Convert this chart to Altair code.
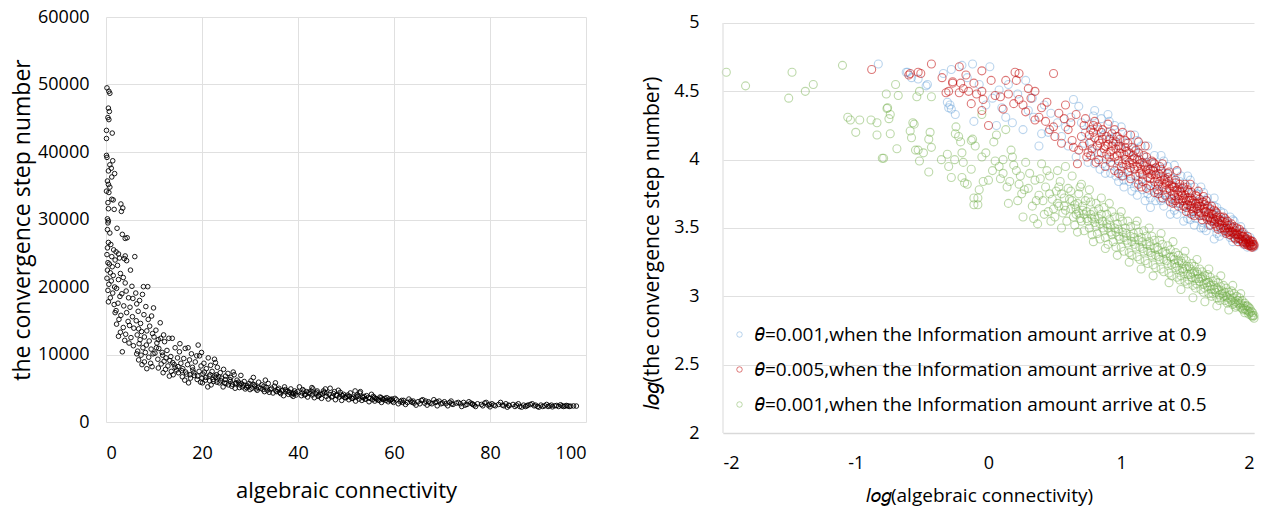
import altair as alt
import pandas as pd

FONT = "Open Sans"

# ---------------- left panel: (algebraic connectivity, convergence step number)
left_pts = [
    (0.2,49500),(0.6,49000),(0.8,48700),(0.5,46500),(0.7,46000),(0.4,45100),(0.6,44800),(0.1,43200),(1.3,42800),(0.1,42000),
    (0.1,39500),(0.2,39200),(1.4,38700),(0.8,38100),(1.1,37600),(0.5,37200),(1.8,36800),(1.2,36300),(0.3,35700),(0.5,35200),
    (0.8,34800),(0.1,34200),(0.6,34000),(1.2,33000),(1.5,32900),(0.4,32500),(0.5,31600),(1.7,31500),(0.3,30100),(0.5,29800),
    (0.4,29500),(0.3,28500),(2.3,28700),(0.8,28000),(0.5,26600),(1.0,26300),(0.3,25800),(1.6,25500),(0.2,24800),(1.2,24500),
    (1.9,24000),(0.4,23600),(0.7,23400),(1.3,23000),(0.3,22500),(0.9,22100),(1.5,21700),(0.2,21300),(1.1,20900),(0.6,20400),
    (1.8,20000),(0.4,19500),(1.4,19100),(0.9,18400),(0.5,17800),(1.7,17400),
    (3.1,32300),(3.5,31700),(3.2,31200),(3.4,27800),(4.0,27200),(4.4,27300),(2.1,25200),(2.8,24300),(2.6,24900),(4.0,24600),
    (6.0,24500),(3.8,24200),(4.3,23900),(2.4,23200),(5.1,22500),(3.0,22000),(2.6,21100),(3.6,21400),(4.0,20600),(5.4,20100),
    (2.2,19800),(4.2,19400),(3.3,19000),(2.9,18600),(4.7,18400),(5.6,18300),(2.5,17600),(3.7,17200),(5.0,17000),(2.1,16500),
    (1.9,16200),(4.3,16200),(3.1,15800),(5.5,15600),(2.7,15200),(4.6,14900),(2.2,14500),(3.6,14000),(4.9,14300),(5.8,13900),
    (3.0,13300),(4.1,13000),(2.6,12700),(5.2,12500),(3.9,12100),(3.4,10400),(4.8,11700),(5.7,11300),
    (7.8,20050),(8.7,20050),(6.2,19100),(7.6,18900),(7.0,18000),(6.4,17500),(8.3,17100),(9.9,16900),(6.7,16400),(7.9,15900),
    (9.5,15700),(8.8,15200),(6.3,15000),(7.2,14600),(9.1,14200),(6.8,13800),(7.4,13400),(8.5,13500),(9.7,13100),(6.5,12900),
    (8.0,12600),(10.0,12600),(7.1,12200),(9.0,12000),(6.9,11600),(8.4,11400),(7.7,11000),(9.4,10800),(6.6,10500),(8.2,10300),
    (9.8,10100),(7.3,9900),(8.9,9600),(6.8,9200),(8.0,8900),(9.3,8700),(7.5,8500),(8.5,7900),(9.6,8200),(6.4,10100),
    (10.4,13600),(11.3,14700),(11.4,12400),(13.1,12400),(13.8,12400),(10.6,11700),(12.2,11900),(14.4,11000),(16.5,10900),(19.2,11400),
    (11.0,10900),(12.7,10600),(15.3,10400),(17.8,10100),(18.9,9800),(19.5,9800),(10.2,10200),(11.8,9900),(13.5,9700),(14.9,9500),
    (16.2,9400),(17.4,9200),(18.6,8900),(10.8,9300),(12.1,9000),(13.9,8800),(15.6,8700),(17.0,8500),(19.8,8300),(11.5,8600),
    (12.9,8300),(14.4,8100),(16.0,7900),(18.1,7700),(19.4,7500),(10.9,8000),(12.4,7800),(13.6,7500),(15.1,7300),(16.8,7100),
    (18.4,6900),(11.9,7300),(14.0,7000),(15.9,6700),(17.6,6500),(19.0,6300),(13.2,6800),(16.4,6200),(17.2,5800),(19.7,5900),
    (14.7,7700),(18.0,8100),
    (21.3,9500),(22.6,9300),(20.4,8700),(21.8,8400),(23.2,8100),(24.5,7800),(20.9,7900),(22.1,7500),(23.8,7300),(25.4,7200),
    (26.7,7000),(28.1,6900),(20.2,7100),(21.5,6800),(22.9,6600),(24.1,6500),(25.8,6300),(27.3,6200),(28.8,6000),(30.2,6100),
    (20.7,6200),(22.4,6000),(23.6,5800),(25.0,5700),(26.3,5600),(27.9,5500),(29.4,5400),(31.0,5300),(21.9,5500),(24.4,5200),
    (26.9,5000),(29.0,4900),(30.7,6600),(31.8,5900),(32.5,5500),(33.4,5100),(34.2,4800),(35.1,5300),(36.0,5000),(36.8,4700),
    (37.7,4500),(38.5,4900),(39.3,4600),(31.5,4700),(33.0,4500),(34.8,4300),(36.4,4200),(38.0,4100),(39.6,4000),(32.2,5000),
    (35.6,4500),(37.2,5200),(38.9,4300),(27.6,5900),(24.9,6800),(23.0,7000),(26.0,6600),(28.4,5200),(29.8,5700),(30.4,5000),
    (33.8,5700),(35.3,5800),(37.0,3900),(39.0,3800),(20.1,5800),(21.2,5200),
    (40.3,5200),(41.0,4800),(41.8,4500),(42.5,4200),(43.1,4900),(43.9,4400),(44.6,4100),(45.3,4600),(46.0,4300),(46.7,5000),
    (47.4,4200),(48.1,3900),(48.8,4400),(49.5,4100),(50.2,3800),(50.9,4300),(51.6,3700),(52.3,4000),(52.9,4300),(53.6,3600),
    (54.3,3900),(55.0,3500),(55.7,3800),(56.4,3400),(57.1,3700),(57.8,3300),(58.5,3600),(59.2,3200),(40.7,3900),(42.0,3700),
    (43.4,3600),(44.9,3500),(46.3,3400),(47.8,3300),(49.1,3200),(50.6,3300),(52.0,3100),(53.3,3200),(54.8,3000),(56.0,3100),
    (57.4,2900),(58.8,3000),(41.4,4000),(44.2,3800),(47.0,3700),(49.8,3600),(51.2,3500),(54.0,3400),(56.7,3300),(59.6,3400),
    (45.7,4900),(48.4,4700),(51.9,4600),(53.0,4500),(55.3,4100),(42.9,5100),(58.1,3500),(59.9,2900),
    (60.5,3300),(61.3,3000),(62.0,3200),(62.8,2900),(63.5,3100),(64.2,2800),(65.0,3000),(65.7,3200),(66.4,2800),(67.2,3000),
    (67.9,2700),(68.6,2900),(69.4,3100),(70.1,2800),(70.8,2700),(71.6,2900),(72.3,2600),(73.0,2800),(73.8,2700),(74.5,2900),
    (75.2,2600),(76.0,2800),(76.7,2500),(77.4,2700),(78.2,2600),(78.9,2800),(79.6,2500),(80.4,2700),(81.1,2400),(81.8,2600),
    (82.6,2500),(83.3,2700),(84.0,2400),(84.8,2600),(85.5,2500),(86.2,2300),(87.0,2500),(87.7,2400),(88.4,2600),(89.2,2400),
    (89.9,2300),(90.6,2500),(91.4,2400),(92.1,2300),(92.8,2500),(93.5,2400),(94.3,2300),(95.0,2400),(95.6,2350),(96.2,2400),
    (96.8,2350),(98.0,2360),(60.9,2700),(62.4,2600),(64.6,2500),(66.9,2500),(69.0,2400),(71.2,2400),(74.1,2300),(77.0,2300),
    (80.0,2250),(83.6,2200),(86.6,2200),(60.2,3500),(63.1,3400),(66.0,3300),(68.3,3300),(71.9,3100),(75.6,3000),(79.2,2900),
    (82.2,2900),(85.9,2700),(88.8,2700),(91.8,2600),(94.7,2550),(93.0,2250),(90.2,2200),(97.4,2380),
    (10.5,11000),(11.7,10300),(12.5,9500),(13.3,9100),(14.2,8500),(15.0,8200),(15.8,7600),(16.6,7400),(17.5,7000),(18.3,7300),
    (19.1,6800),(20.0,6500),(20.8,6600),(21.6,6100),(22.3,6300),(23.1,5900),(23.9,6100),(24.7,5800),(25.5,5500),(26.2,5300),
    (27.0,5700),(27.8,5100),(28.6,5500),(29.3,5100),(30.0,4800),(30.9,5500),(31.7,5100),(32.7,4800),(33.6,4700),(34.5,5000),
    (35.4,4600),(36.2,4400),(37.4,4800),(38.2,4400),(39.1,4200),(39.9,4500),(40.9,4300),(41.6,4100),(42.3,4400),(43.0,4000),
    (43.7,4200),(44.4,3900),(45.1,4200),(45.9,3800),(46.5,4100),(47.2,3800),(48.0,4000),(48.6,3700),(49.3,3900),(50.0,3600),
    (50.7,3800),(51.4,3500),(52.1,3700),(52.7,3400),(53.4,3700),(54.1,3400),(54.7,3600),(55.5,3300),(56.2,3500),(56.9,3200),
    (57.6,3400),(58.3,3200),(59.0,3400),(59.7,3100),(61.8,2900),(63.8,2900),(65.4,2700),(67.5,2800),(69.8,2700),(72.0,2700),
    (74.8,2500),(76.4,2600),(78.5,2400),(80.8,2500),(82.9,2400),(85.2,2300),(87.4,2300),(89.5,2500),(91.0,2300),(93.9,2450),
    (95.3,2300),(96.5,2300),(33.2,6200),(26.5,7400),(22.8,8800),(19.9,10300),(17.1,11000),(15.4,11600),(12.0,12900),(10.9,12200),
    (20.5,7400),(21.7,7000),(22.7,6800),(23.5,6700),(24.8,6300),(25.9,6000),(27.1,5800),(28.2,5700),(29.6,5200),(30.6,5600),
    (31.3,4900),(32.9,5300),(34.0,4400),(35.8,4800),(36.6,4600),(37.9,4600),(38.7,4000),(39.5,4300),(41.2,4600),(42.7,4600),
    (44.0,4600),(45.5,4400),(47.6,4500),(49.0,4000),(50.4,4000),(52.5,3800),(53.8,3800),(55.9,3600),(57.3,3600),(59.4,3300),
    (61.6,3200),(64.0,3100),(66.6,3100),(68.9,3000),(70.5,3000),(73.4,2900),(76.3,2700),(79.9,2600),(83.9,2500),(87.9,2500),
    (92.4,2400),(95.9,2450),
]

# ---------------- right panel: log-log, three series
green_pts = [
    (-1.975,4.64),(-1.83,4.54),(-1.48,4.64),(-1.505,4.45),(-1.38,4.50),(-1.32,4.55),(-1.10,4.69),(-1.06,4.31),(-1.04,4.29),(-0.97,4.29),
    (-1.00,4.20),(-0.885,4.29),(-0.84,4.27),(-0.84,4.18),(-0.80,4.01),(-0.76,4.38),(-0.75,4.30),(-0.74,4.33),(-0.74,4.19),(-0.70,4.55),
    (-0.77,4.48),(-0.68,4.47),(-0.69,4.08),(-0.59,4.21),(-0.58,4.16),(-0.57,4.27),(-0.55,4.07),(-0.54,4.46),(-0.52,4.50),(-0.43,4.46),
    (-0.765,4.375),(-0.79,4.01),(-0.56,4.26),(-0.53,4.07),(-0.49,4.05),(-0.52,3.99),(-0.45,3.91),(-0.44,4.20),(-0.43,4.09),(-0.45,4.15),
    (-0.355,4.00),(-0.31,4.04),(-0.30,3.95),(-0.28,3.87),(-0.255,4.00),(-0.245,4.24),(-0.25,4.19),(-0.225,4.17),(-0.21,4.13),(-0.20,4.05),
    (-0.19,3.98),(-0.20,3.87),(-0.18,3.83),(-0.16,3.82),(-0.13,3.93),(-0.11,3.72),(-0.08,3.72),(-0.11,3.67),(-0.08,3.67),(-0.13,4.14),
    (-0.12,4.15),(-0.10,4.10),(-0.05,4.02),(-0.04,3.84),(-0.05,4.33),(-0.07,3.78),(0.00,3.85),(0.04,4.13),(0.05,3.99),(0.08,3.95),
    (0.11,4.00),(0.11,3.90),(0.13,4.22),(0.16,3.84),(0.17,4.07),(0.19,3.96),(0.21,3.92),(0.23,3.82),(0.24,3.88),(0.25,3.75),
    (0.28,3.98),(0.30,3.79),(0.33,3.66),(0.35,3.85),(0.37,3.53),(0.38,3.74),(0.40,3.97),(0.41,3.70),(0.43,3.80),(0.45,3.62),
    (0.46,3.88),(0.48,3.71),(0.50,3.58),(0.51,3.77),(0.53,3.66),(0.54,3.84),(0.56,3.61),(0.57,3.72),(0.59,3.55),(0.60,3.79),
    (0.62,3.64),(0.63,3.70),(0.65,3.52),(0.66,3.60),(0.68,3.75),(0.69,3.57),(0.71,3.66),(0.72,3.48),(0.74,3.62),(0.75,3.55),
    (0.77,3.69),(0.78,3.45),(0.80,3.58),(0.81,3.51),(0.83,3.64),(0.84,3.42),(0.86,3.55),(0.87,3.48),(0.89,3.60),(0.90,3.38),
    (0.92,3.52),(0.93,3.45),(0.95,3.58),(0.96,3.36),(0.98,3.49),(0.99,3.42),(1.01,3.55),(1.02,3.33),(1.04,3.46),(1.05,3.39),
    (1.07,3.51),(1.08,3.30),(1.10,3.43),(1.11,3.36),(1.13,3.47),(1.14,3.27),(1.16,3.40),(1.17,3.33),(1.19,3.44),(1.20,3.24),
    (1.22,3.37),(1.23,3.30),(1.25,3.41),(1.26,3.21),(1.28,3.34),(1.29,3.27),(1.31,3.38),(1.32,3.18),(1.34,3.31),(1.35,3.24),
    (1.37,3.34),(1.38,3.15),(1.40,3.27),(1.41,3.21),(1.43,3.30),(1.44,3.12),(1.46,3.24),(1.47,3.18),(1.49,3.26),(1.50,3.09),
    (1.52,3.20),(1.53,3.14),(1.55,3.22),(1.56,3.06),(1.58,3.16),(1.59,3.11),(1.61,3.18),(1.62,3.03),(1.64,3.12),(1.65,3.07),
    (1.67,3.14),(1.68,3.00),(1.70,3.08),(1.71,3.03),(1.73,3.10),(1.74,2.97),(1.76,3.04),(1.77,3.00),(1.79,3.06),(1.80,2.95),
    (1.82,3.01),(1.83,2.97),(1.85,3.02),(1.86,2.92),(1.88,2.97),(1.89,2.94),(1.91,2.97),(1.92,2.90),(1.94,2.93),(1.95,2.90),
    (1.97,2.91),(1.98,2.86),(1.99,2.88),(2.00,2.84),(1.96,2.87),(1.93,2.88),
    (0.58,3.95),(0.52,3.92),(0.63,3.88),(0.70,3.82),(0.76,3.78),(0.85,3.72),(0.91,3.68),(1.00,3.62),(1.12,3.55),(1.21,3.50),
    (1.30,3.46),(0.97,3.30),(1.06,3.25),(1.15,3.20),(1.24,3.15),(1.36,3.10),(1.45,3.05),(1.54,2.99),(1.63,2.96),(1.72,2.93),
    (1.81,2.90),(0.88,3.35),(0.79,3.40),(0.67,3.47),(0.55,3.50),(1.39,3.40),(1.48,3.33),(1.57,3.27),(1.66,3.20),(1.75,3.15),
    (1.84,3.08),(1.90,3.02),
    (0.44,3.92),(0.47,3.55),(0.52,3.68),(0.55,3.75),(0.58,3.63),(0.61,3.71),(0.64,3.58),(0.67,3.68),(0.70,3.55),(0.73,3.70),
    (0.76,3.50),(0.79,3.62),(0.82,3.46),(0.85,3.60),(0.88,3.43),(0.91,3.56),(0.94,3.40),(0.97,3.53),(1.00,3.36),(1.03,3.50),
    (1.06,3.32),(1.09,3.46),(1.12,3.29),(1.15,3.43),(1.18,3.26),(1.21,3.40),(1.24,3.23),(1.27,3.36),(1.30,3.20),(1.33,3.33),
    (1.36,3.17),(1.39,3.29),(1.42,3.14),(1.45,3.26),(1.48,3.11),(1.51,3.22),(1.54,3.08),(1.57,3.18),(1.60,3.05),(1.63,3.15),
    (1.66,3.02),(1.69,3.11),(1.72,2.99),(1.75,3.07),(1.78,2.97),(1.81,3.03),(1.84,2.94),(1.87,3.00),(1.90,2.92),(1.93,2.95),
    (1.96,2.89),(1.99,2.86),(1.98,2.89),(1.95,2.93),(1.92,2.93),(1.89,2.99),(1.86,2.96),(1.83,3.04),(1.80,2.99),(1.77,3.08),
    (1.74,3.01),(1.71,3.12),(1.68,3.05),(1.65,3.16),(1.62,3.09),(1.59,3.20),(1.56,3.13),(1.53,3.24),(1.50,3.16),(1.47,3.28),
    (1.44,3.19),(1.41,3.32),(1.38,3.23),(1.35,3.37),(1.32,3.27),(1.29,3.41),(1.26,3.30),(1.23,3.44),(1.20,3.33),(1.17,3.48),
    (1.14,3.36),(1.11,3.52),(1.08,3.40),(1.05,3.55),(1.02,3.43),(0.99,3.58),(0.96,3.47),(0.93,3.62),(0.90,3.50),(0.87,3.65),
    (0.84,3.53),(0.81,3.68),(0.78,3.57),(0.75,3.72),(0.72,3.60),(0.69,3.80),(0.66,3.64),(0.62,3.77),(0.57,3.66),(0.53,3.80),
    (0.49,3.64),(0.46,3.75),(0.42,3.60),(0.39,3.86),(0.36,3.70),(0.31,3.90),(0.27,3.78),(0.22,3.70),(0.18,4.02),(0.14,3.80),
    (0.09,3.86),(0.03,3.92),(-0.02,4.05),(0.06,4.18),(0.15,3.68),(0.26,3.58),(0.34,3.57),
    (1.42,3.22),(1.45,3.15),(1.48,3.20),(1.51,3.12),(1.54,3.17),(1.57,3.09),(1.60,3.13),(1.63,3.06),(1.66,3.10),(1.69,3.02),
    (1.72,3.06),(1.75,2.99),(1.78,3.03),(1.81,2.96),(1.84,2.99),(1.87,2.93),(1.90,2.95),(1.93,2.91),(1.96,2.92),(1.99,2.85),
    (2.00,2.86),(1.97,2.88),(1.94,2.90),(1.91,2.91),(1.88,2.95),(1.85,2.95),(1.82,2.98),(1.79,3.00),(1.76,3.02),(1.73,3.05),
    (1.70,3.05),(1.67,3.08),(1.64,3.10),(1.61,3.14),(1.58,3.13),(1.55,3.18),(1.52,3.16),(1.49,3.22),(1.46,3.20),(1.43,3.26),
    (1.40,3.24),(1.37,3.29),(1.34,3.26),(1.31,3.32),(1.28,3.29),(1.25,3.35),(1.22,3.32),(1.19,3.38),(1.16,3.35),(1.13,3.41),
    (1.10,3.38),(1.07,3.44),(1.04,3.41),(1.01,3.47),(0.98,3.44),(0.95,3.50),(0.92,3.47),(0.89,3.53),(0.86,3.50),(0.83,3.57),
    (0.80,3.54),(0.77,3.60),(0.74,3.57),(0.71,3.63),(0.68,3.61),(0.65,3.67),
]

blue_pts = [
    (-0.83,4.70),(-0.62,4.64),(-0.58,4.60),(-0.53,4.59),(-0.47,4.54),(-0.34,4.63),(-0.28,4.66),(-0.31,4.42),(-0.28,4.37),(-0.30,4.38),
    (-0.61,4.64),(-0.46,4.55),(-0.20,4.69),(-0.12,4.70),(0.01,4.68),(-0.29,4.40),(-0.11,4.28),(0.03,4.45),(0.08,4.51),(-0.25,4.33),
    (-0.16,4.60),(-0.07,4.55),(-0.02,4.40),
    (0.10,4.38),(0.13,4.31),(0.18,4.27),(0.26,4.22),(0.30,4.36),(0.34,4.31),(0.40,4.19),(0.45,4.20),(0.52,4.27),(0.55,4.17),
    (0.58,4.24),(0.62,4.31),(0.64,4.44),(0.68,4.39),(0.70,4.27),(0.38,4.10),(0.15,4.55),(0.22,4.48),(0.28,4.58),(0.33,4.45),
    (0.42,4.40),(0.47,4.34),(0.60,4.10),(0.66,4.02),(0.06,4.25),
    (0.73,4.20),(0.75,3.98),(0.77,4.13),(0.79,4.32),(0.82,4.05),(0.84,3.93),(0.87,4.18),(0.89,4.00),(0.92,3.90),(0.94,4.15),
    (0.97,3.95),(0.99,4.10),(1.02,3.85),(1.04,4.02),(1.06,3.92),(1.09,4.08),(1.11,3.83),(1.14,4.00),(1.16,3.86),(1.19,3.98),
    (1.22,3.65),(1.21,3.78),(1.24,3.93),(1.26,3.81),(1.29,3.72),(1.31,3.90),(1.33,3.76),(1.36,3.70),(1.38,3.86),(1.41,3.68),
    (1.43,3.80),(1.46,3.64),(1.48,3.77),(1.51,3.61),(1.53,3.72),(1.56,3.57),(1.58,3.69),(1.61,3.54),(1.63,3.65),(1.66,3.52),
    (1.68,3.62),(1.71,3.50),(1.73,3.59),(1.76,3.47),(1.78,3.55),(1.81,3.45),(1.83,3.51),(1.86,3.42),(1.88,3.48),(1.91,3.40),
    (1.93,3.45),(1.96,3.38),(1.98,3.41),(2.00,3.36),(1.85,3.55),(1.75,3.62),(1.65,3.72),(1.55,3.80),(1.45,3.88),(1.35,3.95),
    (1.25,4.03),(1.15,4.10),(1.05,4.18),(0.95,4.25),(0.85,4.30),(1.70,3.42),(1.60,3.50),(1.50,3.57),(1.40,3.63),(1.30,3.70),
    (1.20,3.75),(1.10,3.80),(1.00,3.88),
    (0.72,4.12),(0.76,4.26),(0.80,3.97),(0.83,4.22),(0.86,3.97),(0.90,4.20),(0.93,3.96),(0.96,4.17),(1.00,3.92),(1.03,4.12),
    (1.07,3.88),(1.10,4.06),(1.13,3.85),(1.17,4.02),(1.20,3.82),(1.23,3.97),(1.27,3.78),(1.30,3.92),(1.34,3.73),(1.37,3.88),
    (1.40,3.70),(1.44,3.84),(1.47,3.66),(1.50,3.80),(1.54,3.63),(1.57,3.75),(1.60,3.59),(1.64,3.70),(1.67,3.56),(1.70,3.66),
    (1.74,3.53),(1.77,3.61),(1.80,3.49),(1.84,3.56),(1.87,3.45),(1.90,3.51),(1.94,3.40),(1.97,3.43),(1.99,3.37),(1.92,3.47),
    (1.82,3.58),(1.72,3.65),(1.62,3.76),(1.52,3.85),(1.42,3.91),(1.32,3.99),(1.18,3.70),(1.08,3.77),(0.98,3.84),(0.88,3.90),
    (0.78,4.06),(1.12,4.14),(0.91,4.28),(1.26,3.70),(1.37,3.60),(1.47,3.55),
    (1.02,3.80),(1.12,3.74),(1.22,3.72),(1.32,3.66),(1.42,3.60),(1.52,3.56),(1.62,3.50),(1.72,3.46),(1.82,3.43),(1.92,3.38),
    (0.96,3.88),(1.06,3.84),(1.16,3.78),(1.28,3.77),(1.38,3.72),(1.48,3.66),(1.58,3.60),(1.68,3.55),(1.78,3.49),(1.88,3.42),
    (1.95,3.36),(1.84,3.40),(1.74,3.44),(1.64,3.48),(1.55,3.52),(0.80,4.36),(0.90,4.33),(1.00,4.24),(1.10,4.18),(1.20,4.10),
    (1.30,4.03),(1.40,3.96),(1.50,3.88),(1.60,3.80),(1.70,3.72),
]

red_pts = [
    (-0.88,4.66),(-0.60,4.62),(-0.53,4.64),(-0.51,4.63),(-0.43,4.70),(-0.32,4.49),(-0.30,4.50),(-0.27,4.57),(-0.22,4.68),(-0.22,4.49),
    (-0.27,4.56),(-0.21,4.56),(-0.19,4.52),(-0.15,4.50),(-0.11,4.56),(-0.09,4.48),(-0.05,4.50),(-0.05,4.36),(0.00,4.25),(-0.04,4.44),
    (-0.05,4.65),(-0.59,4.63),(-0.35,4.60),(-0.17,4.62),(-0.13,4.41),(0.02,4.58),(0.05,4.47),
    (0.09,4.46),(0.15,4.48),(0.19,4.41),(0.23,4.44),(0.28,4.35),(0.35,4.29),(0.38,4.31),(0.43,4.28),(0.46,4.22),(0.49,4.24),
    (0.50,4.17),(0.60,4.22),(0.63,4.14),(0.64,4.09),(0.68,4.07),(0.70,4.17),(0.13,4.58),(0.20,4.64),(0.21,4.58),(0.23,4.63),
    (0.30,4.52),(0.35,4.50),(0.49,4.63),(0.11,4.37),(0.26,4.40),(0.32,4.45),(0.40,4.38),(0.44,4.42),(0.53,4.34),(0.57,4.30),
    (0.67,3.97),(0.55,4.12),(0.58,4.40),(0.62,4.27),(0.66,4.33),
    (0.72,4.25),(0.74,4.02),(0.76,4.18),(0.78,4.08),(0.80,4.28),(0.81,3.98),(0.83,4.14),(0.85,4.05),(0.86,4.22),(0.88,3.95),
    (0.90,4.11),(0.91,4.02),(0.93,4.19),(0.95,3.92),(0.96,4.08),(0.98,3.99),(0.99,4.15),(1.01,3.88),(1.02,4.04),(1.04,3.96),
    (1.05,4.12),(1.07,3.86),(1.08,4.00),(1.10,3.93),(1.11,4.07),(1.13,3.82),(1.14,3.97),(1.16,3.89),(1.17,4.03),(1.19,3.79),
    (1.20,3.93),(1.22,3.86),(1.23,3.99),(1.25,3.76),(1.26,3.89),(1.28,3.82),(1.29,3.95),(1.31,3.72),(1.32,3.85),(1.34,3.78),
    (1.35,3.90),(1.37,3.69),(1.38,3.81),(1.40,3.74),(1.41,3.85),(1.43,3.66),(1.44,3.77),(1.46,3.70),(1.47,3.80),(1.49,3.62),
    (1.50,3.72),(1.52,3.66),(1.53,3.76),(1.55,3.59),(1.56,3.68),(1.58,3.62),(1.59,3.71),(1.61,3.56),(1.62,3.64),(1.64,3.58),
    (1.65,3.66),(1.67,3.52),(1.68,3.60),(1.70,3.55),(1.71,3.62),(1.73,3.49),(1.74,3.56),(1.76,3.52),(1.77,3.58),(1.79,3.46),
    (1.80,3.52),(1.82,3.48),(1.83,3.53),(1.85,3.43),(1.86,3.48),(1.88,3.45),(1.89,3.49),(1.91,3.41),(1.92,3.44),(1.94,3.42),
    (1.95,3.44),(1.97,3.39),(1.98,3.40),(1.99,3.38),(2.00,3.37),(1.96,3.40),(1.93,3.43),(1.90,3.46),(1.87,3.46),(1.84,3.50),
    (1.81,3.50),(1.78,3.54),(1.75,3.58),(1.72,3.58),(1.69,3.57),(1.66,3.61),(1.63,3.62),(1.60,3.66),(1.57,3.66),(1.54,3.70),
    (1.51,3.70),(1.48,3.74),(1.45,3.76),(1.42,3.78),(1.39,3.80),(1.36,3.84),(1.33,3.82),(1.30,3.88),(1.27,3.86),(1.24,3.92),
    (1.21,3.90),(1.18,3.95),(1.15,3.93),(1.12,4.00),(1.09,3.97),(1.06,4.05),(1.03,4.00),(1.00,4.08),(0.97,4.03),(0.94,4.12),
    (0.92,4.06),(0.89,4.17),(0.84,4.12),(0.79,4.20),(1.42,3.92),(1.31,3.97),(1.52,3.82),(1.62,3.73),(0.95,4.22),(1.07,4.18),
    (1.18,4.10),(1.86,3.42),(1.94,3.39),(1.97,3.37),
    (0.71,4.10),(0.73,4.30),(0.75,4.05),(0.77,4.22),(0.82,4.24),(0.87,4.08),(0.90,4.26),(0.92,3.98),(0.97,4.17),(1.00,3.95),
    (1.03,4.14),(1.05,3.91),(1.08,4.09),(1.11,3.88),(1.13,4.05),(1.16,3.84),(1.19,4.02),(1.22,3.81),(1.25,3.97),(1.27,3.78),
    (1.30,3.93),(1.33,3.74),(1.35,3.87),(1.38,3.71),(1.41,3.83),(1.44,3.68),(1.46,3.79),(1.49,3.65),(1.51,3.76),(1.54,3.62),
    (1.57,3.73),(1.59,3.59),(1.62,3.69),(1.65,3.56),(1.67,3.64),(1.70,3.53),(1.72,3.61),(1.75,3.50),(1.78,3.57),(1.80,3.47),
    (1.83,3.47),(1.85,3.51),(1.88,3.43),(1.90,3.42),(1.92,3.40),(1.95,3.38),(1.97,3.41),(1.99,3.36),(1.98,3.37),(1.96,3.39),
    (1.94,3.41),(1.91,3.44),(1.89,3.45),(1.86,3.45),(1.82,3.52),(1.79,3.50),(1.76,3.55),(1.73,3.54),(1.69,3.60),(1.66,3.58),
    (1.63,3.67),(1.60,3.61),(1.57,3.64),(1.53,3.68),(1.50,3.67),(1.47,3.72),(1.43,3.74),(1.40,3.77),(1.36,3.79),(1.33,3.86),
    (1.29,3.84),(1.26,3.94),(1.23,3.89),(1.19,3.92),(1.16,3.98),(1.12,3.95),(1.09,4.03),(1.06,3.98),(1.03,4.09),(0.99,4.05),
    (0.96,4.13),(0.93,4.10),(0.89,4.04),(0.86,4.15),(0.83,4.00),(0.80,4.16),(0.77,4.03),(1.24,3.98),(1.36,3.91),(1.48,3.82),
    (1.58,3.77),(1.68,3.66),(1.01,4.20),(1.13,4.13),(0.98,3.90),(1.15,3.80),(1.28,3.75),(1.39,3.68),(1.53,3.60),
    (1.41,3.70),(1.44,3.82),(1.47,3.66),(1.50,3.78),(1.53,3.64),(1.56,3.74),(1.59,3.66),(1.62,3.59),(1.64,3.70),(1.67,3.57),
    (1.70,3.63),(1.72,3.51),(1.75,3.55),(1.77,3.50),(1.80,3.55),(1.82,3.45),(1.84,3.47),(1.87,3.50),(1.89,3.42),(1.91,3.47),
    (1.93,3.38),(1.95,3.42),(1.97,3.38),(1.99,3.40),(2.00,3.38),(1.98,3.36),(1.96,3.37),(1.92,3.39),(1.88,3.40),(1.85,3.46),
    (1.81,3.47),(1.78,3.48),(1.74,3.52),(1.71,3.56),(1.68,3.55),(1.64,3.62),(1.61,3.69),(1.58,3.68),(1.55,3.65),(1.52,3.72),
    (1.49,3.70),(1.46,3.74),(1.43,3.71),(1.40,3.80),(1.37,3.77),(1.34,3.83),(1.31,3.80),(1.28,3.90),(1.25,3.84),(1.22,3.93),
    (1.20,3.87),(1.17,3.96),(1.14,3.90),(1.10,4.01),(1.07,3.94),(1.04,4.06),(1.01,3.97),(0.98,4.10),(0.95,4.02),(0.91,4.15),
    (0.88,4.10),(0.85,4.20),(0.82,4.10),(0.79,4.25),(0.76,4.12),
]

series_labels = [
    "\U0001D703=0.001,when the Information amount arrive at 0.9",
    "\U0001D703=0.005,when the Information amount arrive at 0.9",
    "\U0001D703=0.001,when the Information amount arrive at 0.5",
]
series_colors = ["rgba(91,155,213,0.6)", "rgba(192,0,0,0.75)", "rgba(112,173,71,0.65)"]

LOG = "\U0001D459\U0001D45C\U0001D454"   # italic "log"

left_df = pd.DataFrame(left_pts, columns=["x", "y"])

rows = []
# drawing order: green, blue, red (red on top)
for pts, lab in [(green_pts, series_labels[2]), (blue_pts, series_labels[0]), (red_pts, series_labels[1])]:
    for x, y in pts:
        rows.append({"x": x, "y": y, "series": lab})
right_df = pd.DataFrame(rows)

GRID = "#e0e0e0"
AXIS_LINE = "#d9d9d9"

left = alt.Chart(left_df).mark_point(
    filled=False, size=21, color="black", strokeWidth=1.0, opacity=0.9
).encode(
    x=alt.X("x:Q", scale=alt.Scale(domain=[0, 100], nice=False),
            axis=alt.Axis(values=[0, 20, 40, 60, 80, 100], title="algebraic connectivity",
                          grid=True, gridColor=GRID, domain=False, ticks=False,
                          labelFontSize=18, labelPadding=22, titleFontSize=22, titlePadding=18,
                          labelFont=FONT, titleFont=FONT, titleFontWeight="normal", labelColor="#000", titleColor="#000")),
    y=alt.Y("y:Q", scale=alt.Scale(domain=[0, 60000], nice=False),
            axis=alt.Axis(values=[0, 10000, 20000, 30000, 40000, 50000, 60000], format="d",
                          title="the convergence step number",
                          grid=True, gridColor=GRID, domain=False, ticks=False,
                          labelFontSize=18, labelPadding=17, titleFontSize=23, titlePadding=3,
                          labelFont=FONT, titleFont=FONT, titleFontWeight="normal", labelColor="#000", titleColor="#000")),
).properties(width=480, height=405)

# top of the right plot sits lower than the left one: extend the y scale a little above 5
right_pts = alt.Chart(right_df).mark_point(
    filled=False, size=64, strokeWidth=1.1
).encode(
    x=alt.X("x:Q", scale=alt.Scale(domain=[-2, 2], nice=False),
            axis=alt.Axis(values=[-2, -1, 0, 1, 2], title=LOG + "(algebraic connectivity)",
                          labelExpr="datum.value < 0 ? '-' + abs(datum.value) : '' + datum.value",
                          grid=False, domain=True, domainColor=AXIS_LINE, domainWidth=1.5, ticks=False,
                          labelFontSize=18, labelPadding=21, titleFontSize=19, titlePadding=14, titleX=256,
                          labelFont=FONT, titleFont=FONT, titleFontWeight="normal", labelColor="#000", titleColor="#000")),
    y=alt.Y("y:Q", scale=alt.Scale(domain=[2, 5.0439], nice=False, zero=False),
            axis=alt.Axis(values=[2, 2.5, 3, 3.5, 4, 4.5, 5], format="~g",
                          title=LOG + "(the convergence step number)",
                          grid=True, gridColor=GRID, domain=False, ticks=False,
                          labelFontSize=18, labelPadding=24, titleFontSize=21, titlePadding=11, titleY=226,
                          labelFont=FONT, titleFont=FONT, titleFontWeight="normal", labelColor="#000", titleColor="#000")),
    color=alt.Color("series:N",
                    scale=alt.Scale(domain=series_labels, range=series_colors),
                    legend=alt.Legend(title=None, orient="none", legendX=624, legendY=308,
                                      labelFontSize=19, labelFont=FONT, labelColor="#000",
                                      symbolSize=30, symbolStrokeWidth=1, symbolType="circle",
                                      rowPadding=15, labelOffset=6, labelLimit=700)),
)

right_axis_line = alt.Chart(pd.DataFrame({"k": [0]})).mark_rule(color=AXIS_LINE, strokeWidth=1).encode(
    x=alt.datum(-2), y=alt.datum(2), y2=alt.datum(5)
)

right = alt.layer(right_pts, right_axis_line).properties(width=531, height=416)

chart = alt.hconcat(left, right, spacing=55).properties(
    padding={"left": 3, "top": 0, "right": 5, "bottom": 5}
).configure_view(stroke=None)

chart.save("out.html", embed_options={"renderer": "svg", "actions": False})
